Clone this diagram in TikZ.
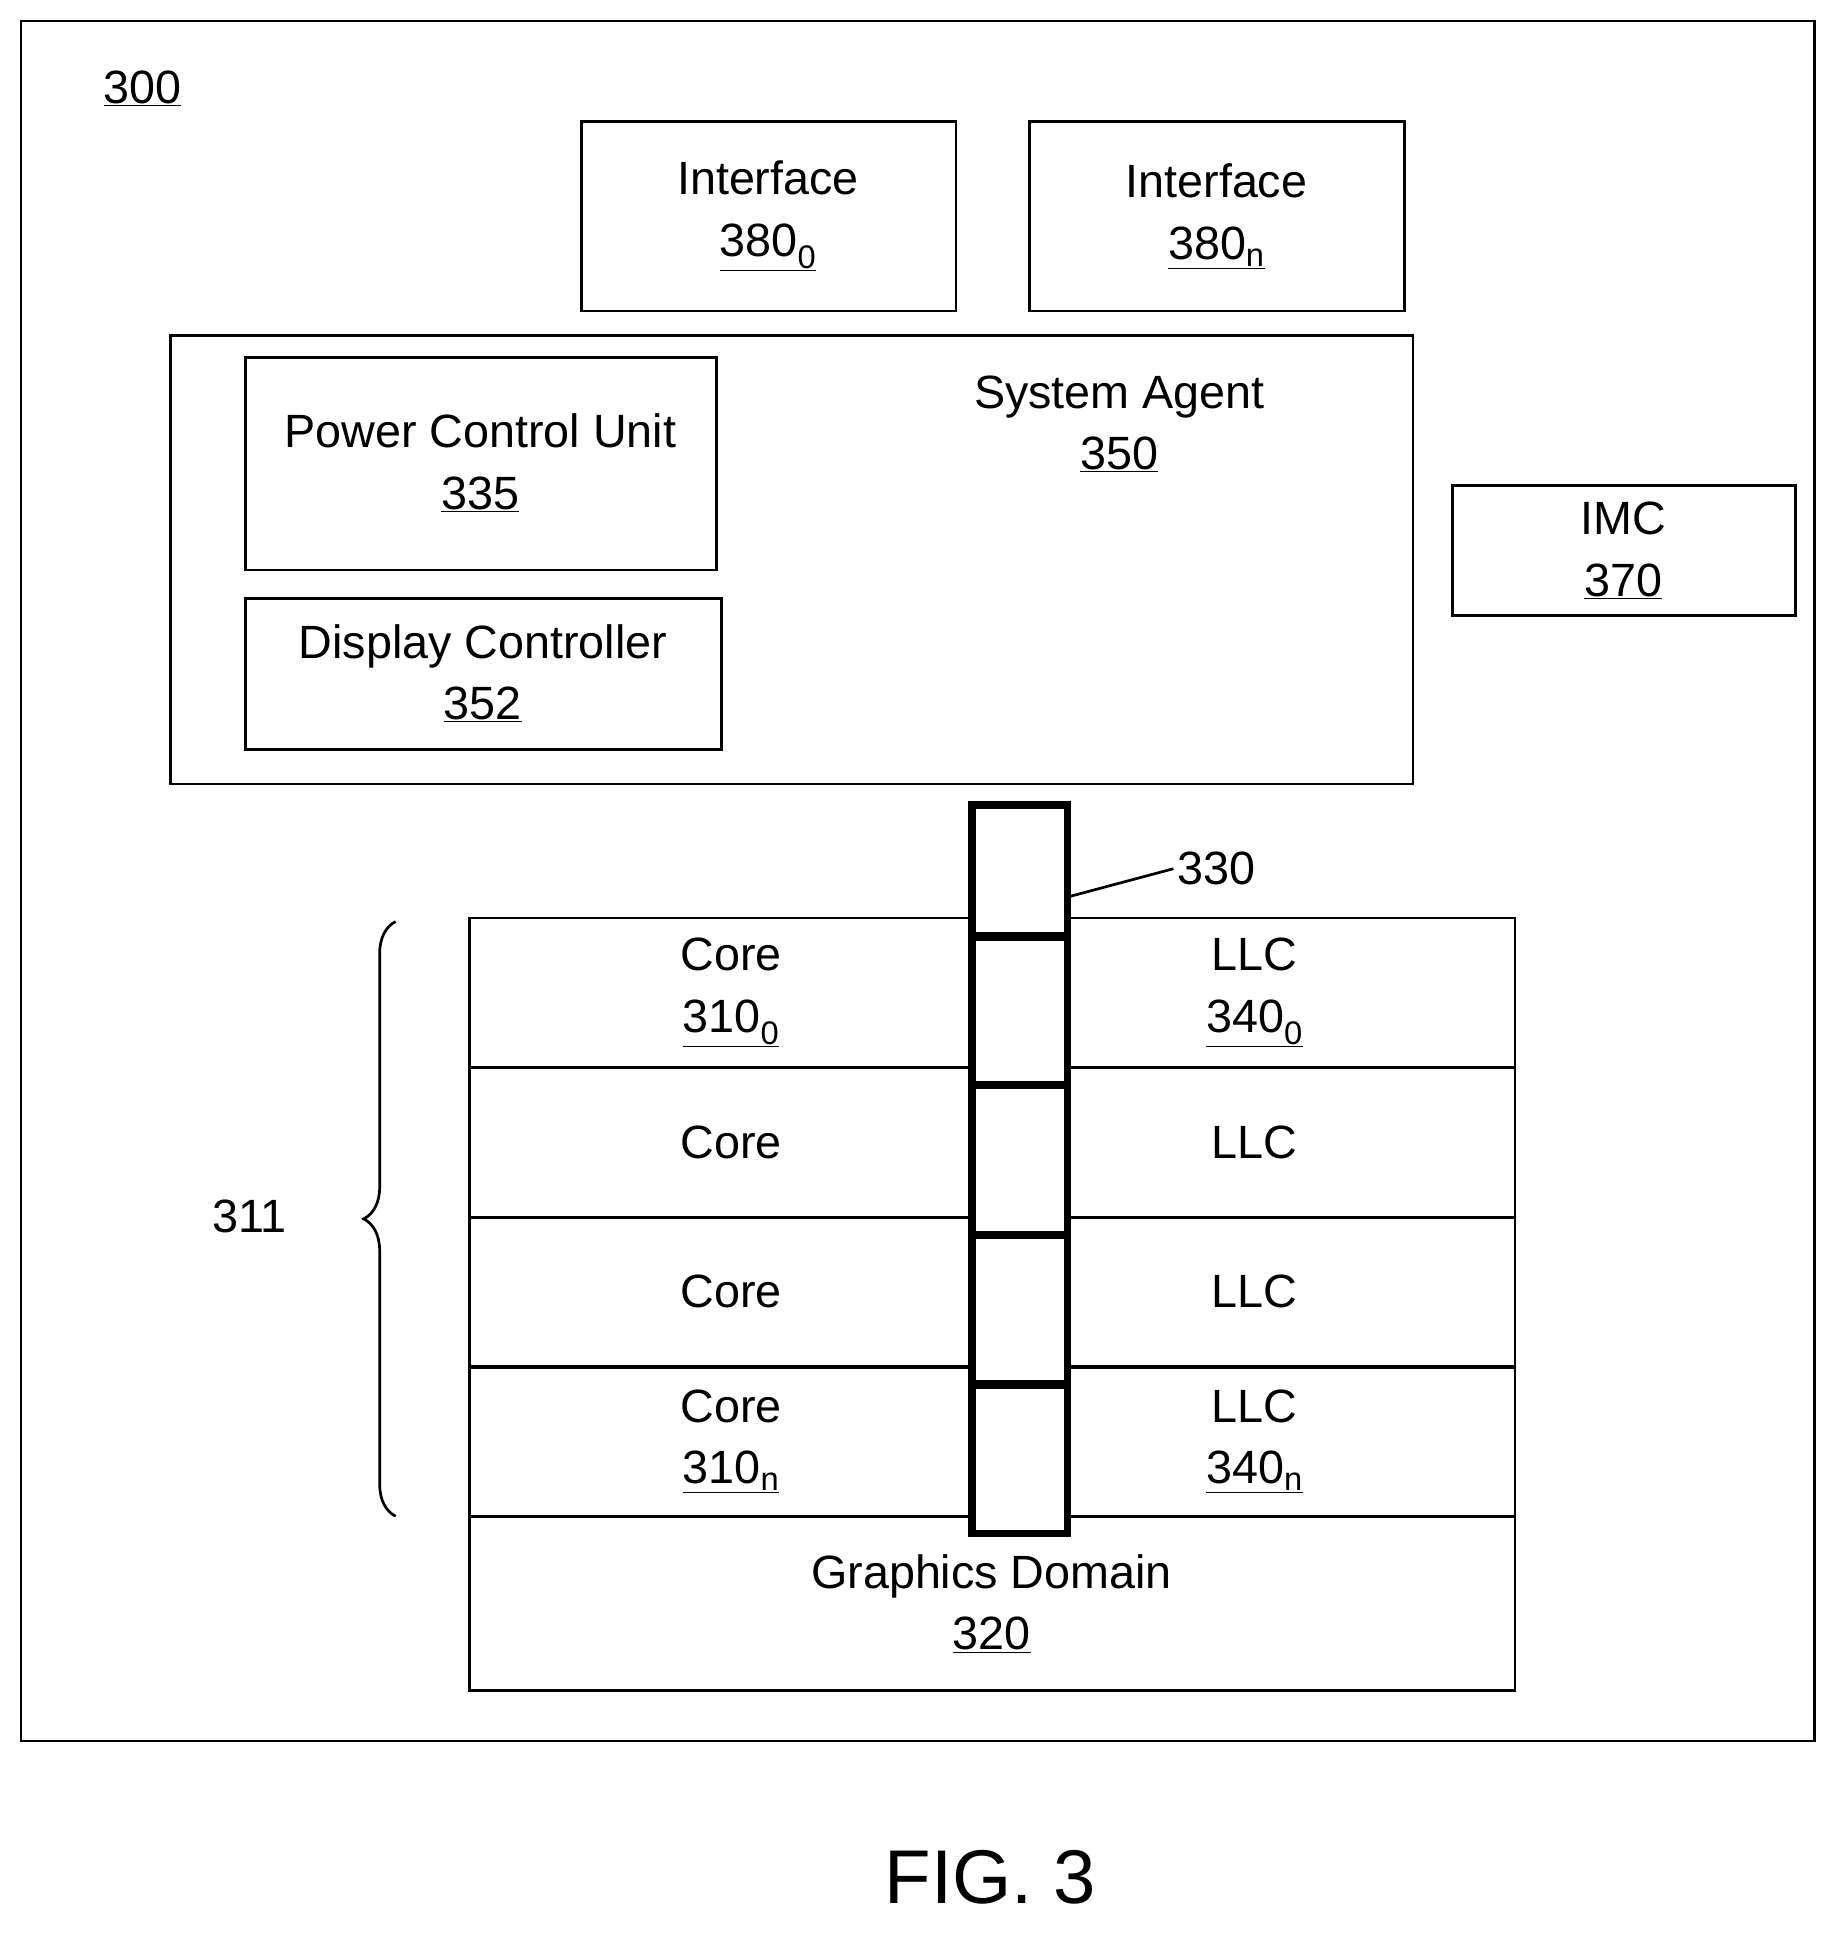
\documentclass[tikz,border=0pt]{standalone}
\usepackage{fontspec}
\setmainfont{Liberation Sans}
\usetikzlibrary{decorations.pathreplacing}

\newcommand{\ul}[1]{\underline{#1}}
\tikzset{
  box/.style={draw, line width=2.2pt},
  lbl/.style={align=center, font=\fontsize{38}{50}\selectfont},
}

\begin{document}
\begin{tikzpicture}[x=1pt,y=-1pt]
\useasboundingbox (0,0) rectangle (1500,1574);
% outer frame
\draw[box] (17,17) rectangle (1477,1417);
\node[lbl] (n300) at (116,72) {\ul{300}};
% interfaces
\draw[box] (473,99) rectangle (778,253);
\node[lbl] (if0) at (625,176) {Interface\\\ul{380\textsubscript{0}}};
\draw[box] (838,99) rectangle (1143,253);
\node[lbl] (ifn) at (990,176) {Interface\\\ul{380\textsubscript{n}}};
% system agent
\draw[box] (139,273) rectangle (1150,638);
\node[lbl] (sa) at (911,345) {System Agent\\\ul{350}};
\draw[box] (200,291) rectangle (583,464);
\node[lbl] (pcu) at (391,377) {Power Control Unit\\\ul{335}};
\draw[box] (200,487) rectangle (587,610);
\node[lbl] (dc) at (393,548) {Display Controller\\\ul{352}};
% memory controller
\draw[box] (1182,395) rectangle (1461,501);
\node[lbl] (imc) at (1321,448) {IMC\\\ul{370}};
% cores and caches
\foreach \y in {747,869,991,1112}
  \draw[box] (382,\y) rectangle (1233,\y+122);
\draw[box] (382,1234) rectangle (1233,1376);
\node[lbl] (core0) at (595,808) {Core\\\ul{310\textsubscript{0}}};
\node[lbl] (llc0) at (1021,808) {LLC\\\ul{340\textsubscript{0}}};
\node[lbl] (core1) at (595,930) {Core};
\node[lbl] (llc1) at (1021,930) {LLC};
\node[lbl] (core2) at (595,1051) {Core};
\node[lbl] (llc2) at (1021,1051) {LLC};
\node[lbl] (coren) at (595,1173) {Core\\\ul{310\textsubscript{n}}};
\node[lbl] (llcn) at (1021,1173) {LLC\\\ul{340\textsubscript{n}}};
\node[lbl] (gfx) at (807,1305) {Graphics Domain\\\ul{320}};
% ring
\draw[line width=6pt, fill=white] (791,655) rectangle (869,1248);
\foreach \y in {762,883,1005,1127}
  \draw[line width=7pt] (791,\y) -- (869,\y);
\coordinate (ringtap) at (869,730);
\node[lbl, anchor=west] (n330) at (955,707) {330};
\draw[line width=2.2pt] (ringtap) -- (n330.west);
% brace
\draw[line width=2.2pt, decorate, decoration={brace, amplitude=26pt}]
  (322,1234) -- (322,750);
\node[lbl] (n311) at (203,990) {311};
\node[font=\fontsize{62}{70}\selectfont] (fig) at (806,1528) {FIG. 3};
\end{tikzpicture}
\end{document}
